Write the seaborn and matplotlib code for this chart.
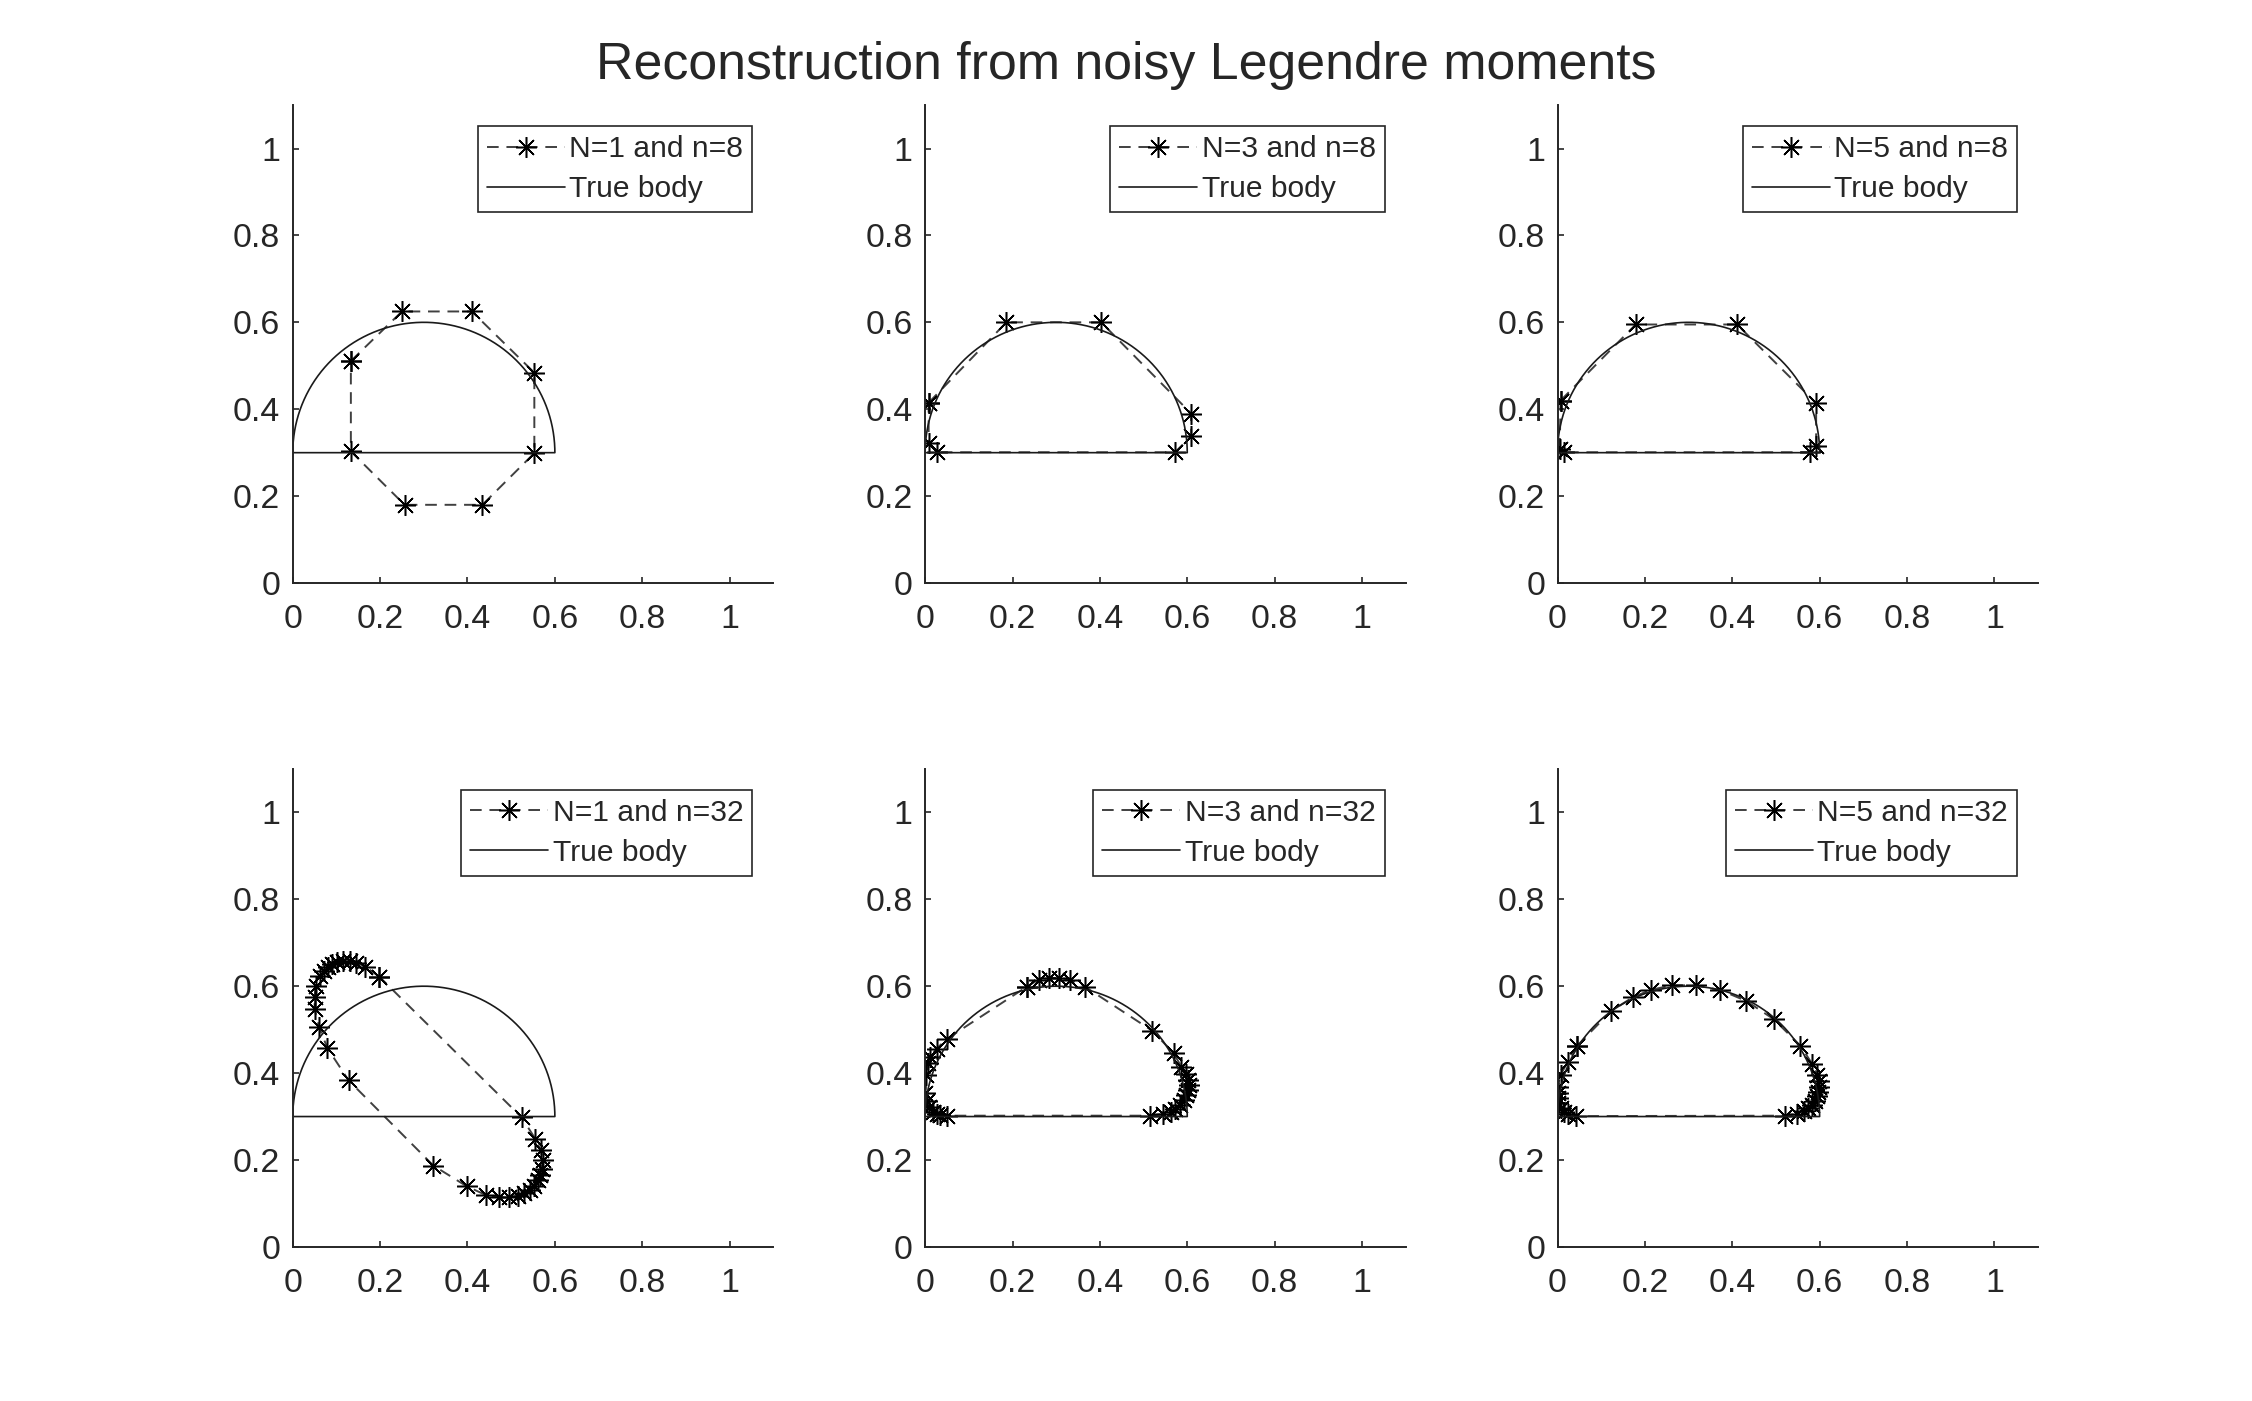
import numpy as np
import seaborn as sns
import matplotlib.pyplot as plt
from matplotlib.lines import Line2D

# True body: upper half disc, centre (0.3, 0.3), radius 0.3
body_cx, body_cy, body_r = 0.3, 0.3, 0.3

# Reconstructed boundary points, one pair per panel
labels = ["N=1 and n=8", "N=3 and n=8", "N=5 and n=8",
          "N=1 and n=32", "N=3 and n=32", "N=5 and n=32"]

x_n1_8 = [0.133, 0.250, 0.410, 0.553, 0.553, 0.434, 0.256, 0.133]
y_n1_8 = [0.511, 0.625, 0.625, 0.484, 0.299, 0.180, 0.180, 0.303]

x_n3_8 = [0.008, 0.186, 0.403, 0.609, 0.609, 0.572, 0.027, 0.008]
y_n3_8 = [0.415, 0.600, 0.600, 0.390, 0.338, 0.301, 0.301, 0.322]

x_n5_8 = [0.007, 0.179, 0.411, 0.592, 0.592, 0.579, 0.015, 0.005]
y_n5_8 = [0.420, 0.595, 0.595, 0.414, 0.316, 0.301, 0.301, 0.308]

x_n1_32 = [0.198, 0.166, 0.145, 0.130, 0.114, 0.101, 0.089, 0.080, 0.071, 0.063,
           0.053, 0.050, 0.050, 0.060, 0.079, 0.128, 0.322, 0.399, 0.443, 0.472,
           0.496, 0.515, 0.530, 0.542, 0.553, 0.561, 0.566, 0.571, 0.572, 0.568,
           0.555, 0.524]
y_n1_32 = [0.622, 0.645, 0.654, 0.658, 0.658, 0.655, 0.651, 0.644, 0.634, 0.624,
           0.601, 0.576, 0.547, 0.507, 0.458, 0.383, 0.187, 0.139, 0.119, 0.114,
           0.114, 0.118, 0.124, 0.131, 0.141, 0.153, 0.166, 0.179, 0.200, 0.222,
           0.249, 0.298]

x_n3_32 = [0.233, 0.260, 0.284, 0.307, 0.332, 0.367, 0.519, 0.569, 0.586, 0.597,
           0.601, 0.603, 0.601, 0.597, 0.592, 0.584, 0.573, 0.563, 0.545, 0.515,
           0.050, 0.035, 0.027, 0.019, 0.008, 0.004, 0.000, 0.003, 0.006, 0.012,
           0.026, 0.050]
y_n3_32 = [0.599, 0.615, 0.619, 0.619, 0.615, 0.598, 0.498, 0.446, 0.415, 0.397,
           0.384, 0.373, 0.361, 0.350, 0.338, 0.327, 0.318, 0.311, 0.306, 0.302,
           0.302, 0.304, 0.306, 0.310, 0.323, 0.335, 0.354, 0.396, 0.423, 0.438,
           0.456, 0.479]

x_n5_32 = [0.045, 0.123, 0.173, 0.215, 0.263, 0.316, 0.373, 0.432, 0.495, 0.556,
           0.583, 0.595, 0.598, 0.598, 0.597, 0.595, 0.589, 0.583, 0.574, 0.564,
           0.549, 0.521, 0.042, 0.025, 0.015, 0.007, 0.002, 0.000, 0.001, 0.000,
           0.007, 0.023]
y_n5_32 = [0.463, 0.543, 0.575, 0.592, 0.602, 0.602, 0.591, 0.566, 0.524, 0.463,
           0.421, 0.396, 0.381, 0.369, 0.357, 0.348, 0.336, 0.327, 0.319, 0.312,
           0.306, 0.302, 0.301, 0.306, 0.311, 0.319, 0.331, 0.342, 0.355, 0.369,
           0.396, 0.425]

recon_x = [x_n1_8, x_n3_8, x_n5_8, x_n1_32, x_n3_32, x_n5_32]
recon_y = [y_n1_8, y_n3_8, y_n5_8, y_n1_32, y_n3_32, y_n5_32]

ticks = [0, 0.2, 0.4, 0.6, 0.8, 1]
tick_labels = ["0", "0.2", "0.4", "0.6", "0.8", "1"]

sns.set_style("white")
plt.rcParams["font.family"] = ["Liberation Sans", "DejaVu Sans"]

# true body outline: arc then the flat base
theta = np.linspace(np.pi, 0, 300)
body_x = np.concatenate([body_cx + body_r * np.cos(theta), [body_cx - body_r]])
body_y = np.concatenate([body_cy + body_r * np.sin(theta), [body_cy]])

asterisk = (8, 2, 0)
recon_style = dict(color="0.25", linewidth=0.7, linestyle=(0, (6, 4)),
                   marker=asterisk, markersize=7.5, markeredgecolor="black",
                   markeredgewidth=0.55)
body_style = dict(color="0.1", linewidth=0.6)

fig, axes = plt.subplots(2, 3, figsize=(11.26, 7.005), dpi=200)
fig.subplots_adjust(left=0.13, right=0.905, bottom=0.11, top=0.925,
                    wspace=0.316, hspace=0.389)

for i, ax in enumerate(axes.flat):
    xs = np.append(recon_x[i], recon_x[i][0])
    ys = np.append(recon_y[i], recon_y[i][0])
    sns.lineplot(x=xs, y=ys, sort=False, estimator=None, ax=ax, **recon_style)
    sns.lineplot(x=body_x, y=body_y, sort=False, estimator=None, ax=ax,
                 **body_style)

    ax.set_xlim(0, 1.1)
    ax.set_ylim(0, 1.1)
    ax.set_xticks(ticks)
    ax.set_xticklabels(tick_labels)
    ax.set_yticks(ticks)
    ax.set_yticklabels(tick_labels)
    ax.tick_params(direction="in", length=2, width=0.6, labelsize=12.2,
                   colors="0.15", left=True, bottom=True)
    ax.tick_params(axis="x", pad=7.5)
    ax.tick_params(axis="y", pad=4.5)
    for side in ["top", "right"]:
        ax.spines[side].set_visible(False)
    for side in ["left", "bottom"]:
        ax.spines[side].set_color("0.15")
        ax.spines[side].set_linewidth(0.7)

    handles = [Line2D([], [], **recon_style), Line2D([], [], **body_style)]
    leg = ax.legend(handles, [labels[i], "True body"], loc="upper right",
                    fontsize=10.8, frameon=True, fancybox=False,
                    edgecolor="0.15", framealpha=1, borderaxespad=0.7,
                    handlelength=2.6, handletextpad=0.15, borderpad=0.3,
                    labelspacing=0.4)
    leg.get_frame().set_linewidth(0.6)

fig.suptitle("Reconstruction from noisy Legendre moments", fontsize=18.7,
             y=0.953, va="center")

plt.savefig("out.png", dpi=200)
